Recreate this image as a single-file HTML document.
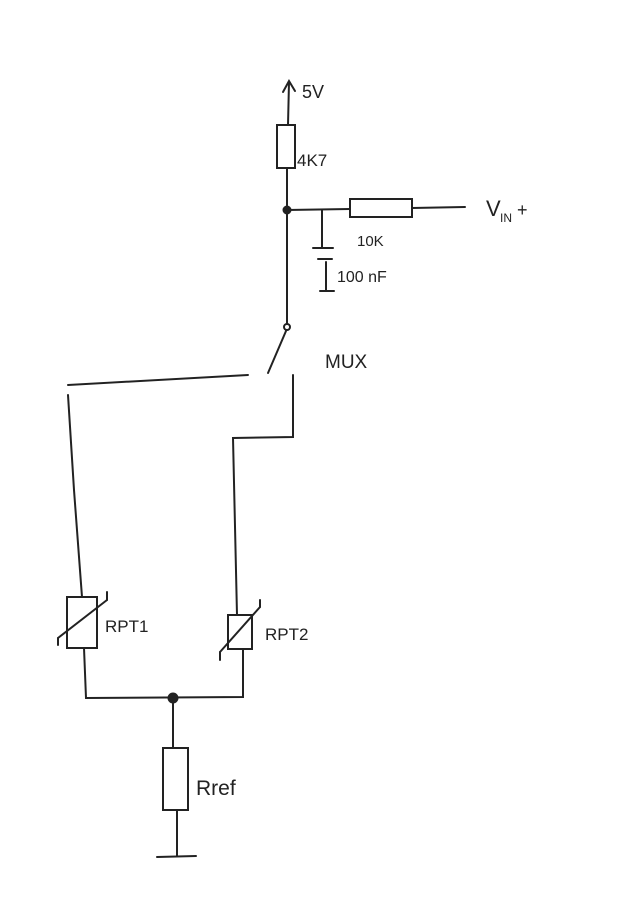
<!DOCTYPE html>
<html><head><style>
html,body{margin:0;padding:0;background:#fff;width:625px;height:911px;overflow:hidden}
svg{display:block}
text{font-family:"Liberation Sans",sans-serif;fill:#222}
</style></head><body>
<svg width="625" height="911" viewBox="0 0 625 911" xmlns="http://www.w3.org/2000/svg">
<g stroke="#222" stroke-width="2" fill="none" stroke-linecap="round">
<!-- 5V -->
<path d="M288 125 L289 82"/>
<path d="M283 92 L289 81 L295 91"/>
<rect x="277" y="125" width="18" height="43"/>
<path d="M287 168 L287 210 L287 330"/>
<circle cx="287" cy="327" r="3" fill="#fff"/>
<path d="M287 210 L350 209"/>
<rect x="350" y="199" width="62" height="18"/>
<path d="M412 208 L465 207"/>
<!-- capacitor -->
<path d="M322 210 L322 248"/>
<path d="M313 248 L333 248"/>
<path d="M318 259 L332 259"/>
<path d="M326 262 L326 290"/>
<path d="M320 291 L334 291"/>
<!-- mux -->
<path d="M286 331 L268 373"/>
<path d="M68 385 L248 375"/>
<path d="M68 395 L74 490 L82 597"/>
<path d="M293 375 L293 437 L233 438 L237 615"/>
<!-- RPT1 -->
<path d="M67 597 L67 648 L97 648 L97 597 Z" stroke-dasharray="0"/>
<path d="M58 638 L107 600"/>
<path d="M58 638 L58 645 M107 600 L107 592"/>
<!-- RPT2 -->
<rect x="228" y="615" width="24" height="34"/>
<path d="M220 652 L260 607"/>
<path d="M220 652 L220 660 M260 607 L260 600"/>
<path d="M84 648 L86 698 L243 697 L243 649"/>
<circle cx="173" cy="698" r="4.5" fill="#222"/>
<circle cx="287" cy="210" r="3.5" fill="#222"/>
<path d="M173 698 L173 748"/>
<rect x="163" y="748" width="25" height="62"/>
<path d="M177 810 L177 856"/>
<path d="M157 857 L196 856"/>
</g>
<text x="302" y="98" font-size="18">5V</text>
<text x="297" y="166" font-size="17">4K7</text>
<text x="357" y="246" font-size="15">10K</text>
<text x="337" y="282" font-size="16">100 nF</text>
<text x="486" y="216" font-size="22">V</text>
<text x="500" y="222" font-size="12">IN</text>
<text x="517" y="216" font-size="18">+</text>
<text x="325" y="368" font-size="19">MUX</text>
<text x="105" y="632" font-size="17">RPT1</text>
<text x="265" y="640" font-size="17">RPT2</text>
<text x="196" y="795" font-size="21">Rref</text>
</svg>
</body></html>
